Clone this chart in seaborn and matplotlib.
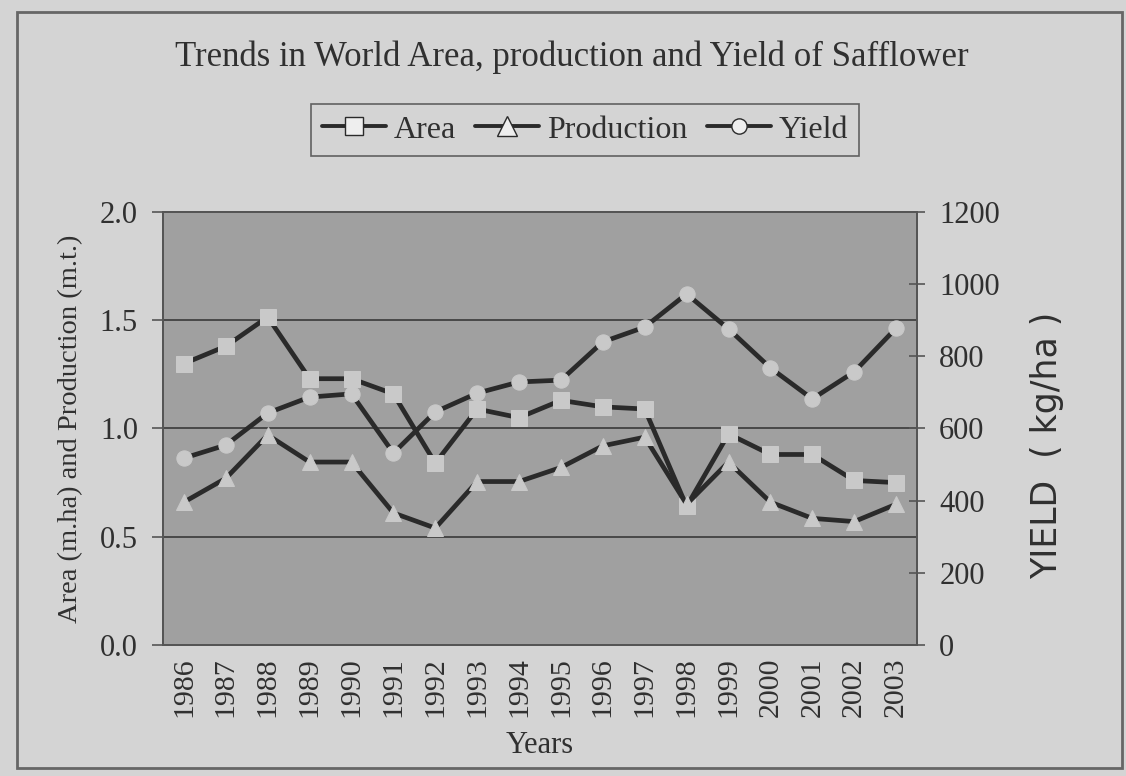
import numpy as np
import pandas as pd
import matplotlib
matplotlib.use("Agg")
import matplotlib.pyplot as plt
from matplotlib.lines import Line2D
from matplotlib.patches import Rectangle
import seaborn as sns

# values
years = list(range(1986, 2004))
area = [1.30, 1.38, 1.515, 1.23, 1.23, 1.16, 0.84, 1.09, 1.05,
        1.13, 1.10, 1.09, 0.64, 0.975, 0.88, 0.88, 0.76, 0.75]
production = [0.66, 0.77, 0.97, 0.845, 0.845, 0.61, 0.54, 0.755, 0.755,
              0.82, 0.92, 0.96, 0.65, 0.845, 0.66, 0.585, 0.57, 0.65]
yield_kg = [518, 554, 643, 687, 696, 532, 646, 698, 729,
            734, 840, 881, 973, 876, 768, 682, 757, 878]

sns.set_theme(style="white")
plt.rcParams["font.family"] = ["Liberation Serif", "DejaVu Serif"]

bg = "#d4d4d4"
plot_bg = "#a0a0a0"
line_c = "#2a2a2a"
mark_c = "#c9c9c9"
ink = "#303030"

df = pd.DataFrame({"Year": years, "Area": area, "Production": production, "Yield": yield_kg})

fig = plt.figure(figsize=(11.26, 7.76), dpi=100, facecolor=bg)
ax = fig.add_axes([163 / 1126, 131 / 776, 754 / 1126, 433 / 776])
ax.set_facecolor(plot_bg)
ax2 = ax.twinx()

for ycol, mk in [("Area", "s"), ("Production", "^")]:
    sns.lineplot(data=df, x="Year", y=ycol, ax=ax, color=line_c, linewidth=3.4,
                 marker=mk, markersize=11, markerfacecolor=mark_c,
                 markeredgecolor=mark_c, zorder=3)
sns.lineplot(data=df, x="Year", y="Yield", ax=ax2, color=line_c, linewidth=3.4,
             marker="o", markersize=11, markerfacecolor=mark_c,
             markeredgecolor=mark_c, zorder=3)

ax.set_xlim(1985.5, 2003.5)
ax.set_ylim(0, 2.0)
ax2.set_ylim(0, 1200)
ax.set_yticks([0, 0.5, 1.0, 1.5, 2.0])
ax.set_yticklabels(["0.0", "0.5", "1.0", "1.5", "2.0"])
ax2.set_yticks(range(0, 1201, 200))

ax.set_xticks(years)
ax.set_xticklabels([str(y) for y in years], rotation=90)
ax.set_xticks(np.arange(1985.5, 2004, 1), minor=True)
ax.tick_params(axis="x", which="major", length=0, pad=9, labelsize=21.5, colors=ink)
ax.tick_params(axis="x", which="minor", length=6, width=1.2, color="#555555", direction="out")
ax.tick_params(axis="y", length=8, width=1.2, color="#555555", direction="out",
               labelsize=22, labelcolor=ink, pad=10)
ax2.tick_params(axis="y", length=12, width=1.2, color="#555555", direction="inout",
                labelsize=22, labelcolor=ink, pad=10)

for y in [0.5, 1.0, 1.5]:
    ax.axhline(y, color="#484848", linewidth=1.4, zorder=1)

for a in (ax, ax2):
    for s in a.spines.values():
        s.set_color("#555555")
        s.set_linewidth(1.4)
ax2.set_zorder(ax.get_zorder() + 1)
ax2.patch.set_visible(False)

ax.set_xlabel("Years", fontsize=22, color=ink, labelpad=10)
ax.set_ylabel("Area (m.ha) and Production (m.t.)", fontsize=20.5, color=ink, labelpad=12)
ax2.set_ylabel("")

fig.text(1047 / 1126, 1 - 445 / 776, "YIELD  ( kg/ha )", rotation=90, fontsize=25,
         family="DejaVu Sans", color=ink, ha="center", va="center")

fig.text(572 / 1126, 1 - 57 / 776, "Trends in World Area, production and Yield of Safflower",
         fontsize=25, color=ink, ha="center", va="center")

handles = [
    Line2D([], [], color=line_c, lw=2.8, marker="s", markersize=13,
           markerfacecolor="#eeeeee", markeredgecolor=line_c),
    Line2D([], [], color=line_c, lw=2.8, marker="^", markersize=15,
           markerfacecolor="#eeeeee", markeredgecolor=line_c),
    Line2D([], [], color=line_c, lw=2.8, marker="o", markersize=11,
           markerfacecolor="#eeeeee", markeredgecolor=line_c),
]
leg = fig.legend(handles, ["Area", "Production", "Yield"], ncol=3,
                 loc="center", bbox_to_anchor=(585 / 1126, 1 - 130 / 776),
                 fontsize=23, frameon=True, fancybox=False, handlelength=2.0,
                 handletextpad=0.25, columnspacing=0.6, borderpad=0.35)
leg.get_frame().set_edgecolor("#444444")
leg.get_frame().set_linewidth(1.2)
leg.get_frame().set_facecolor(bg)
for t in leg.get_texts():
    t.set_color(ink)

fig.patches.append(Rectangle((17 / 1126, 8 / 776), 1105 / 1126, 756 / 776,
                             transform=fig.transFigure, fill=False,
                             edgecolor="#666666", linewidth=2))

fig.savefig("out.png", dpi=100, facecolor=bg)
